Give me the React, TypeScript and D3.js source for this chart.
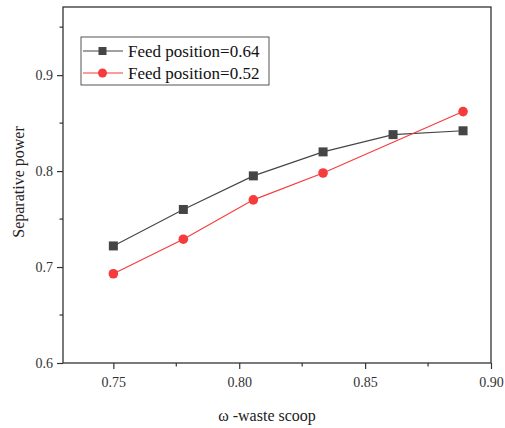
import React, { useEffect, useRef } from 'react';
import * as d3 from 'd3';

// data
const omegaA = [0.75, 0.7778, 0.8056, 0.8333, 0.8611, 0.8889];
const power064 = [0.722, 0.76, 0.795, 0.82, 0.838, 0.842];
const omegaB = [0.75, 0.7778, 0.8056, 0.8333, 0.8889];
const power052 = [0.693, 0.729, 0.77, 0.798, 0.862];
const xTicks = [0.75, 0.8, 0.85, 0.9];
const xMinor = [0.775, 0.825, 0.875];
const yTicks = [0.6, 0.7, 0.8, 0.9];
const yMinor = [0.65, 0.75, 0.85, 0.95];
const seriesNames = ['Feed position=0.64', 'Feed position=0.52'];

const FONT = "'Liberation Serif', 'Times New Roman', serif";

function App() {
  const svgRef = useRef<SVGSVGElement>(null);

  useEffect(() => {
    const svg = d3.select(svgRef.current);
    svg.selectAll('*').remove();

    const width = 505;
    const height = 428;
    const margin = { top: 7, right: 14, bottom: 65, left: 63 };
    const innerW = width - margin.left - margin.right;
    const innerH = height - margin.top - margin.bottom;

    svg.attr('width', width).attr('height', height).style('font-family', FONT);
    svg.append('rect').attr('width', width).attr('height', height).attr('fill', '#fff');

    const g = svg.append('g').attr('transform', `translate(${margin.left},${margin.top})`);

    const x = d3.scaleLinear().domain([0.73, 0.9]).range([0, innerW]);
    const y = d3.scaleLinear().domain([0.6, 0.971]).range([innerH, 0]);

    const axisColor = '#333';

    // frame
    g.append('rect')
      .attr('width', innerW)
      .attr('height', innerH)
      .attr('fill', 'none')
      .attr('stroke', axisColor)
      .attr('stroke-width', 1.3);

    // x axis
    const xAxis = g.append('g')
      .attr('transform', `translate(0,${innerH})`)
      .call(d3.axisBottom(x).tickValues(xTicks).tickFormat(d3.format('.2f')).tickSize(6).tickPadding(8));
    xAxis.attr('font-family', null).attr('font-size', null);
    xAxis.select('.domain').remove();
    xAxis.selectAll('line').attr('stroke', axisColor).attr('stroke-width', 1.2);
    xAxis.selectAll('text')
      .style('font-family', FONT)
      .style('font-size', '14px')
      .attr('fill', '#333');
    g.append('g')
      .attr('transform', `translate(0,${innerH})`)
      .selectAll('line')
      .data(xMinor)
      .join('line')
      .attr('x1', d => x(d))
      .attr('x2', d => x(d))
      .attr('y1', 0)
      .attr('y2', 3.5)
      .attr('stroke', axisColor)
      .attr('stroke-width', 1.2);

    // y axis
    const yAxis = g.append('g')
      .call(d3.axisLeft(y).tickValues(yTicks).tickFormat(d3.format('.1f')).tickSize(6).tickPadding(4));
    yAxis.attr('font-family', null).attr('font-size', null);
    yAxis.select('.domain').remove();
    yAxis.selectAll('line').attr('stroke', axisColor).attr('stroke-width', 1.2);
    yAxis.selectAll('text')
      .style('font-family', FONT)
      .style('font-size', '14px')
      .attr('fill', '#333');
    g.append('g')
      .selectAll('line')
      .data(yMinor)
      .join('line')
      .attr('x1', 0)
      .attr('x2', -3.5)
      .attr('y1', d => y(d))
      .attr('y2', d => y(d))
      .attr('stroke', axisColor)
      .attr('stroke-width', 1.2);

    // axis labels
    svg.append('text')
      .attr('transform', `translate(24,${margin.top + innerH / 2 - 3}) rotate(-90)`)
      .attr('text-anchor', 'middle')
      .style('font-family', FONT)
      .style('font-size', '16px')
      .attr('fill', '#222')
      .text('Separative power');

    svg.append('text')
      .attr('x', 267)
      .attr('y', 421)
      .attr('text-anchor', 'middle')
      .style('font-family', FONT)
      .style('font-size', '16px')
      .attr('fill', '#222')
      .text('ω -waste scoop');

    const line = d3.line<[number, number]>()
      .x(d => x(d[0]))
      .y(d => y(d[1]));

    const black = '#454545';
    const red = '#f53b3b';

    const ptsA: [number, number][] = omegaA.map((w, i) => [w, power064[i]]);
    const ptsB: [number, number][] = omegaB.map((w, i) => [w, power052[i]]);

    g.append('path')
      .datum(ptsA)
      .attr('d', line)
      .attr('fill', 'none')
      .attr('stroke', black)
      .attr('stroke-width', 1.1);
    g.selectAll('.sq')
      .data(ptsA)
      .join('rect')
      .attr('class', 'sq')
      .attr('x', d => x(d[0]) - 4.5)
      .attr('y', d => y(d[1]) - 4.5)
      .attr('width', 9)
      .attr('height', 9)
      .attr('fill', black);

    g.append('path')
      .datum(ptsB)
      .attr('d', line)
      .attr('fill', 'none')
      .attr('stroke', red)
      .attr('stroke-width', 1.1);
    g.selectAll('.ci')
      .data(ptsB)
      .join('circle')
      .attr('class', 'ci')
      .attr('cx', d => x(d[0]))
      .attr('cy', d => y(d[1]))
      .attr('r', 4.8)
      .attr('fill', red);

    // legend
    const lg = svg.append('g').attr('transform', 'translate(81,37)');
    lg.append('rect')
      .attr('width', 188)
      .attr('height', 48)
      .attr('fill', '#fff')
      .attr('stroke', '#555')
      .attr('stroke-width', 1);
    const colors = [black, red];
    seriesNames.forEach((name, i) => {
      const cy = 14 + i * 22;
      lg.append('line')
        .attr('x1', 2).attr('x2', 42)
        .attr('y1', cy).attr('y2', cy)
        .attr('stroke', colors[i])
        .attr('stroke-width', 1.1);
      if (i === 0) {
        lg.append('rect')
          .attr('x', 17.5).attr('y', cy - 4)
          .attr('width', 8).attr('height', 8)
          .attr('fill', colors[i]);
      } else {
        lg.append('circle')
          .attr('cx', 21.5).attr('cy', cy).attr('r', 4.5)
          .attr('fill', colors[i]);
      }
      lg.append('text')
        .attr('x', 47)
        .attr('y', cy + 6)
        .style('font-family', FONT)
        .style('font-size', '17px')
        .attr('fill', '#111')
        .text(name);
    });
  }, []);

  return (
    <div style={{ position: 'absolute', left: 0, top: 0 }}>
      <svg ref={svgRef} style={{ display: 'block' }} />
    </div>
  );
}

export default App;
